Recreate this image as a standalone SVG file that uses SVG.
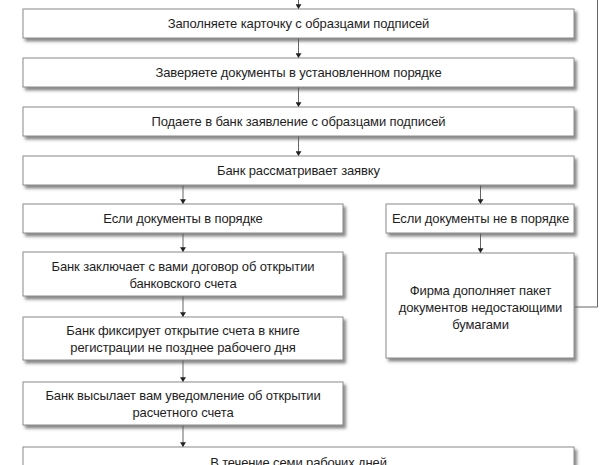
<svg xmlns="http://www.w3.org/2000/svg" width="600" height="465" viewBox="0 0 600 465">
<defs>
<filter id="sh" x="-5%" y="-20%" width="115%" height="160%">
<feDropShadow dx="2.5" dy="3" stdDeviation="1.4" flood-color="#555" flood-opacity="0.7"/>
</filter>
<marker id="ar" viewBox="0 0 8 10" refX="8" refY="5" markerWidth="5" markerHeight="6" orient="auto" markerUnits="userSpaceOnUse">
<path d="M0,0 L8,5 L0,10 Z" fill="#222"/>
</marker>
<style>
.box{fill:#fff;stroke:#8a8a8a;stroke-width:1;filter:url(#sh)}
.t{font-family:"Liberation Sans",Arial,sans-serif;font-size:13px;letter-spacing:-0.12px;fill:#1e1e1e;text-anchor:middle}
.c{fill:none;stroke:#555;stroke-width:0.9}
.ca{fill:none;stroke:#555;stroke-width:0.9;marker-end:url(#ar)}
</style>
</defs>
<rect width="600" height="465" fill="#fff"/>
<g id="connectors">
<line class="ca" x1="298.5" y1="0" x2="298.5" y2="9"/>
<line class="ca" x1="298.5" y1="38" x2="298.5" y2="58"/>
<line class="ca" x1="298.5" y1="87" x2="298.5" y2="107"/>
<line class="ca" x1="298.5" y1="136" x2="298.5" y2="156"/>
<line class="ca" x1="183" y1="185" x2="183" y2="204"/>
<line class="ca" x1="480.5" y1="185" x2="480.5" y2="204"/>
<line class="ca" x1="183" y1="233" x2="183" y2="252"/>
<line class="ca" x1="183" y1="296" x2="183" y2="317"/>
<line class="ca" x1="183" y1="360" x2="183" y2="382"/>
<line class="ca" x1="183" y1="425" x2="183" y2="447"/>
<line class="ca" x1="480.5" y1="233" x2="480.5" y2="253"/>
<polyline class="c" points="575,307 597.5,307 597.5,0"/>
</g>
<g id="n1"><rect class="box" x="23" y="9" width="551" height="29"/><text class="t" x="298.5" y="28">Заполняете карточку с образцами подписей</text></g>
<g id="n2"><rect class="box" x="23" y="58" width="551" height="29"/><text class="t" x="298.5" y="77">Заверяете документы в установленном порядке</text></g>
<g id="n3"><rect class="box" x="23" y="107" width="551" height="29"/><text class="t" x="298.5" y="126">Подаете в банк заявление с образцами подписей</text></g>
<g id="n4"><rect class="box" x="23" y="156" width="551" height="29"/><text class="t" x="298.5" y="175">Банк рассматривает заявку</text></g>
<g id="n5"><rect class="box" x="23" y="204" width="320" height="29"/><text class="t" x="183" y="223">Если документы в порядке</text></g>
<g id="n6"><rect class="box" x="386" y="204" width="188" height="29"/><text class="t" x="480.5" y="223">Если документы не в порядке</text></g>
<g id="n7"><rect class="box" x="23" y="252" width="320" height="44"/><text class="t" x="183" y="270.5">Банк заключает с вами договор об открытии</text><text class="t" x="183" y="287.5">банковского счета</text></g>
<g id="n8"><rect class="box" x="386" y="253" width="188" height="105"/><text class="t" x="480.5" y="294.5">Фирма дополняет пакет</text><text class="t" x="480.5" y="311.5">документов недостающими</text><text class="t" x="480.5" y="328.5">бумагами</text></g>
<g id="n9"><rect class="box" x="23" y="317" width="320" height="43"/><text class="t" x="183" y="334.5">Банк фиксирует открытие счета в книге</text><text class="t" x="183" y="351.5">регистрации не позднее рабочего дня</text></g>
<g id="n10"><rect class="box" x="23" y="382" width="320" height="43"/><text class="t" x="183" y="400">Банк высылает вам уведомление об открытии</text><text class="t" x="183" y="417">расчетного счета</text></g>
<g id="n11"><rect class="box" x="23" y="447" width="551" height="40"/><text class="t" x="298.5" y="467">В течение семи рабочих дней</text></g>
</svg>
